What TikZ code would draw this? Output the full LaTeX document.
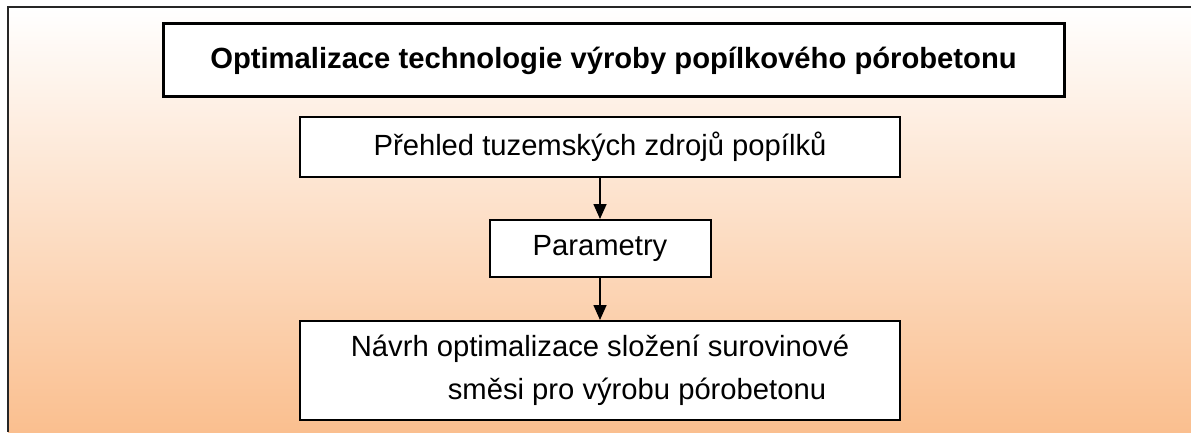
\documentclass[tikz,border=0pt]{standalone}
\usepackage{fontspec}
\setmainfont{Liberation Sans}
\usetikzlibrary{arrows.meta, positioning}
\definecolor{lightorange}{HTML}{FABF8F}
\tikzset{
  stepbox/.style={draw=black, fill=white, line width=2pt, minimum width=600pt, font=\fontsize{29.2}{43}\selectfont, inner sep=0pt},
  titlebox/.style={draw=black, fill=white, line width=3pt, minimum width=901pt, minimum height=73pt, font=\fontsize{29.2}{35}\selectfont\bfseries},
  flow/.style={line width=1.6pt, -{Triangle[width=13pt,length=15pt]}}
}

\begin{document}
\begin{tikzpicture}[x=1pt, y=1pt]
\useasboundingbox (0,0) rectangle (1191,432);

% Background panel, cut off at the right and bottom
\shade[top color=white, bottom color=lightorange] (8,0) rectangle (1191,425);
\draw[line width=2pt, black!85] (1191,425) -- (8,425) -- (8,0);

% Title
\node[titlebox] (title) at (613.5,371.5) {Optimalizace technologie výroby popílkového pórobetonu};

% Steps
\node[stepbox, minimum height=60pt] (overview) at (600,285) {Přehled tuzemských zdrojů popílků};
\node[stepbox, minimum width=221pt, minimum height=57pt, below=41pt of overview] (params) {Parametry};
\node[stepbox, minimum height=99pt, below=42pt of params, align=left] (mix)
  {Návrh optimalizace složení surovinové\\\hspace*{97pt}směsi pro výrobu pórobetonu};

% Arrows
\draw[flow] (overview) -- (params);
\draw[flow] (params) -- (mix);

\end{tikzpicture}
\end{document}
